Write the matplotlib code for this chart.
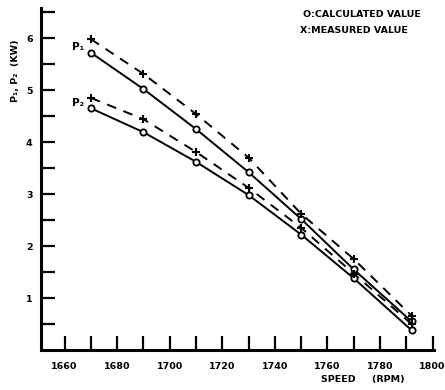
import matplotlib
matplotlib.use("Agg")
import matplotlib.pyplot as plt

speed = [1670, 1690, 1710, 1730, 1750, 1770, 1792]
p1_calc = [5.72, 5.02, 4.25, 3.42, 2.52, 1.55, 0.55]
p1_meas = [5.98, 5.31, 4.54, 3.70, 2.62, 1.75, 0.66]
p2_calc = [4.65, 4.19, 3.62, 2.98, 2.22, 1.38, 0.38]
p2_meas = [4.85, 4.44, 3.81, 3.12, 2.35, 1.47, 0.50]

xticks_major = list(range(1660, 1801, 20))
xticks_minor = list(range(1670, 1800, 20))
yticks_major = [1, 2, 3, 4, 5, 6]
yticks_minor = [0.5, 1.5, 2.5, 3.5, 4.5, 5.5, 6.5]

fig = plt.figure(figsize=(4.45, 3.9), dpi=100)
ax = fig.add_axes([0.092, 0.1026, 0.883, 0.877])

ax.plot(speed, p1_calc, '-', color='black', lw=1.4, marker='o', ms=4.5,
        mfc='white', mec='black', mew=1.3)
ax.plot(speed, p2_calc, '-', color='black', lw=1.4, marker='o', ms=4.5,
        mfc='white', mec='black', mew=1.3)
ax.plot(speed, p1_meas, '--', color='black', lw=1.4, marker='+', ms=6,
        mec='black', mew=1.5, dashes=(5, 4))
ax.plot(speed, p2_meas, '--', color='black', lw=1.4, marker='+', ms=6,
        mec='black', mew=1.5, dashes=(5, 4))

ax.set_xlim(1651, 1800.5)
ax.set_ylim(0, 6.58)

for s in ['top', 'right']:
    ax.spines[s].set_visible(False)
for s in ['left', 'bottom']:
    ax.spines[s].set_linewidth(2.2)

ax.set_xticks(xticks_major)
ax.set_xticks(xticks_minor, minor=True)
ax.set_yticks(yticks_major)
ax.set_yticks(yticks_minor, minor=True)
ax.tick_params(axis='both', which='both', direction='in', width=1.6, length=10)
ax.tick_params(axis='x', which='major', labelsize=6.8, pad=9)
ax.tick_params(axis='y', which='major', labelsize=6.8, pad=6)
for lab in ax.get_xticklabels() + ax.get_yticklabels():
    lab.set_fontweight('bold')

ax.text(1665, 5.83, 'P\u2081', fontsize=7.5, fontweight='bold', ha='center', va='center')
ax.text(1665, 4.75, 'P\u2082', fontsize=7.5, fontweight='bold', ha='center', va='center')

fig.text(0.034, 0.82, 'P\u2081, P\u2082  (KW)', rotation=90, fontsize=6.8,
         fontweight='bold', ha='center', va='center')
fig.text(0.815, 0.026, 'SPEED     (RPM)', fontsize=6.8, fontweight='bold',
         ha='center', va='center')
fig.text(0.68, 0.962, 'O:CALCULATED VALUE', fontsize=6.8, fontweight='bold',
         ha='left', va='center')
fig.text(0.675, 0.923, 'X:MEASURED VALUE', fontsize=6.8, fontweight='bold',
         ha='left', va='center')

fig.savefig('out.png', dpi=100)
